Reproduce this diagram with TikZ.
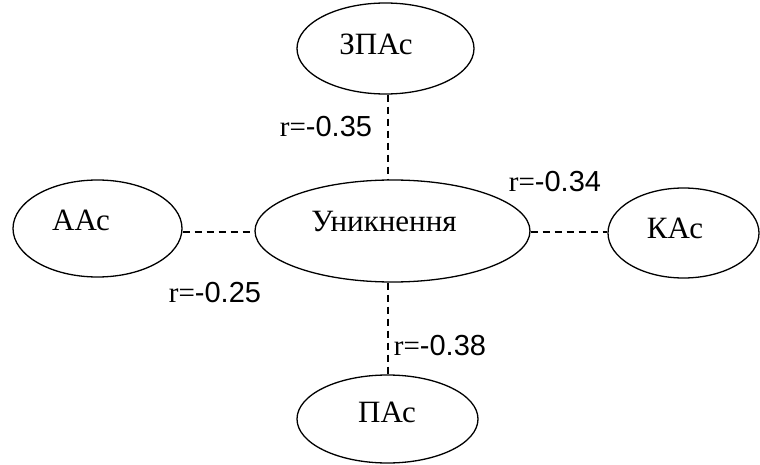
\documentclass[tikz,border=0pt]{standalone}
\usepackage{fontspec}
\setmainfont{Liberation Serif}
\newfontfamily\lsans{Liberation Sans}
\usetikzlibrary{shapes.geometric}
\begin{document}
\begin{tikzpicture}[x=1pt,y=-1pt,
  ell/.style={draw=black,line width=1.3pt,ellipse,inner sep=0pt},
  conn/.style={line width=1.2pt,dash pattern=on 7pt off 5pt},
  txt/.style={font=\fontsize{31}{31}\selectfont,inner sep=0pt,anchor=base},
  lbl/.style={font=\fontsize{29}{29}\selectfont,inner sep=0pt,anchor=base}]
\useasboundingbox (0,0) rectangle (760,465);
% ellipses
\node[ell,minimum width=177pt,minimum height=91pt] (zpas) at (385.5,48.5) {};
\node[ell,minimum width=275pt,minimum height=102pt] (unik) at (392.5,231) {};
\node[ell,minimum width=169pt,minimum height=97pt] (aas) at (97.5,228.5) {};
\node[ell,minimum width=151pt,minimum height=90pt] (kas) at (683.5,233) {};
\node[ell,minimum width=181pt,minimum height=88pt] (pas) at (387.5,419) {};
% texts
\node[txt] (zpasT) at (376,55) {ЗПАс};
\node[txt] (unikT) at (384,232) {Уникнення};
\node[txt] (aasT) at (81,230) {ААс};
\node[txt] (kasT) at (675,238) {КАс};
\node[txt] (pasT) at (387,422) {ПАс};
% connectors
\coordinate (vx) at (388,0);
\coordinate (hy) at (0,232);
\draw[conn] (zpas.south -| vx) -- (unik.north -| vx);
\draw[conn] (unik.south -| vx) -- (pas.north -| vx);
\draw[conn] (aas.east |- hy) -- (unik.west |- hy);
\draw[conn] (unik.east |- hy) -- (kas.west |- hy);
% labels
\node[lbl] (l1) at (326,137) {r={\lsans -0.35}};
\node[lbl] (l2) at (555,192) {r={\lsans -0.34}};
\node[lbl] (l3) at (215,302) {r={\lsans -0.25}};
\node[lbl] (l4) at (440,355) {r={\lsans -0.38}};
\end{tikzpicture}
\end{document}
